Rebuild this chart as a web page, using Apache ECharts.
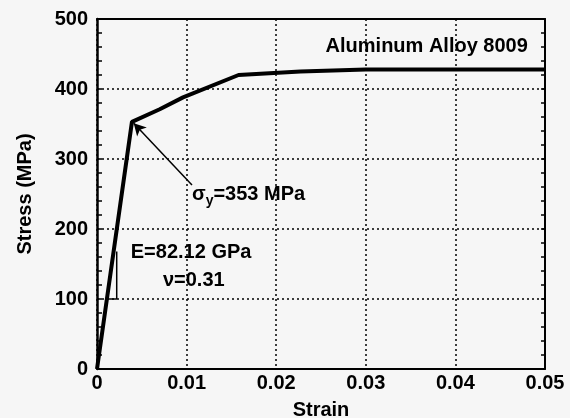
<!DOCTYPE html>
<html>
<head>
<meta charset="utf-8">
<script src="https://cdn.jsdelivr.net/npm/echarts@6/dist/echarts.min.js"></script>
<style>
  html, body { margin: 0; padding: 0; background: #f6f6f6; }
  #chart { width: 570px; height: 418px; }
</style>
</head>
<body>
<div id="chart"></div>
<script>
// stress-strain curve
const strain = [0, 0.0039, 0.007, 0.0096, 0.0158, 0.0227, 0.03, 0.05];
const stress = [0, 353, 371, 388, 420, 425, 428, 428];

// modulus triangle
const triStrain = [0.0011, 0.0022, 0.0022];
const triStress = [100, 100, 168];

// arrow pointing at the yield point
const arrowFrom = [0.0106, 263];
const arrowTo = [0.0041, 351];

// annotations [strain, stress, text]
const notes = [
  [0.0368, 461, 'Aluminum Alloy 8009'],
  [0.0106, 249, '{a|σ}{s|y}{a|=353 MPa}'],
  [0.0105, 166, 'E=82.12 GPa'],
  [0.0108, 127, 'ν=0.31'],
];
const noteAlign = ['center', 'left', 'center', 'center'];

const font = 'Liberation Sans, Arial, Helvetica, sans-serif';

const chart = echarts.init(document.getElementById('chart'));

const zip = (xs, ys) => xs.map((x, i) => [x, ys[i]]);

const option = {
  backgroundColor: '#f6f6f6',
  animation: false,
  grid: { left: 97, right: 25, top: 19, bottom: 49, outerBoundsMode: 'none', containLabel: false },
  xAxis: [
    {
      type: 'value',
      min: 0,
      max: 0.05,
      interval: 0.01,
      name: 'Strain',
      nameLocation: 'middle',
      nameGap: 31,
      nameTextStyle: { color: '#000', fontFamily: font, fontWeight: 'bold', fontSize: 20 },
      axisLine: { show: true, onZero: false, lineStyle: { color: '#000', width: 2 } },
      axisTick: { show: false },
      axisLabel: {
        color: '#000', fontFamily: font, fontWeight: 'bold', fontSize: 20, margin: 4,
        formatter: (v) => (v === 0 ? '0' : v.toFixed(2)),
      },
      splitLine: { show: true, lineStyle: { color: '#000', type: [2, 3], width: 1.5 } },
    },
    {
      type: 'value',
      position: 'top',
      min: 0,
      max: 0.05,
      interval: 0.01,
      axisLine: { show: true, onZero: false, lineStyle: { color: '#000', width: 2 } },
      axisTick: { show: false },
      axisLabel: { show: false },
      splitLine: { show: false },
    },
  ],
  yAxis: [
    {
      type: 'value',
      min: 0,
      max: 500,
      interval: 100,
      name: 'Stress (MPa)',
      nameLocation: 'middle',
      nameGap: 62,
      nameTextStyle: { color: '#000', fontFamily: font, fontWeight: 'bold', fontSize: 20 },
      axisLine: { show: true, onZero: false, lineStyle: { color: '#000', width: 2.5 } },
      axisTick: { show: true, inside: true, length: 5, lineStyle: { color: '#000', width: 1.5 } },
      minorTick: { show: true, splitNumber: 5, length: 5, lineStyle: { color: '#000', width: 1.5 } },
      axisLabel: { color: '#000', fontFamily: font, fontWeight: 'bold', fontSize: 20, margin: 9 },
      splitLine: { show: true, lineStyle: { color: '#000', type: [2, 3], width: 1.5 } },
    },
    {
      type: 'value',
      position: 'right',
      min: 0,
      max: 500,
      interval: 100,
      axisLine: { show: true, onZero: false, lineStyle: { color: '#000', width: 2 } },
      axisTick: { show: true, inside: true, length: 4, lineStyle: { color: '#000', width: 1.5 } },
      minorTick: { show: true, splitNumber: 5, length: 4, lineStyle: { color: '#000', width: 1.5 } },
      axisLabel: { show: false },
      splitLine: { show: false },
    },
  ],
  series: [
    {
      name: 'curve',
      type: 'line',
      data: zip(strain, stress),
      symbol: 'none',
      lineStyle: { color: '#000', width: 4 },
      z: 5,
      markLine: {
        silent: true,
        symbol: ['none', 'arrow'],
        symbolSize: [10, 12],
        label: { show: false },
        lineStyle: { color: '#000', width: 1.5, type: 'solid' },
        data: [[{ coord: arrowFrom }, { coord: arrowTo }]],
      },
    },
    {
      name: 'triangle',
      type: 'line',
      data: zip(triStrain, triStress),
      symbol: 'none',
      lineStyle: { color: '#000', width: 1.5 },
      z: 4,
    },
    {
      name: 'notes',
      type: 'scatter',
      symbolSize: 0,
      itemStyle: { opacity: 1 },
      z: 6,
      data: notes.map((n, i) => ({
        value: [n[0], n[1]],
        label: {
          show: true,
          position: 'inside',
          align: noteAlign[i],
          verticalAlign: 'middle',
          formatter: n[2],
          color: '#000',
          fontFamily: font,
          fontWeight: 'bold',
          fontSize: 20,
          rich: {
            a: { fontFamily: font, fontWeight: 'bold', fontSize: 20, color: '#000', lineHeight: 22 },
            s: { fontFamily: font, fontWeight: 'bold', fontSize: 14, color: '#000', lineHeight: 22, padding: [12, 0, 0, 0] },
          },
        },
      })),
    },
  ],
};

chart.setOption(option);
</script>
</body>
</html>
